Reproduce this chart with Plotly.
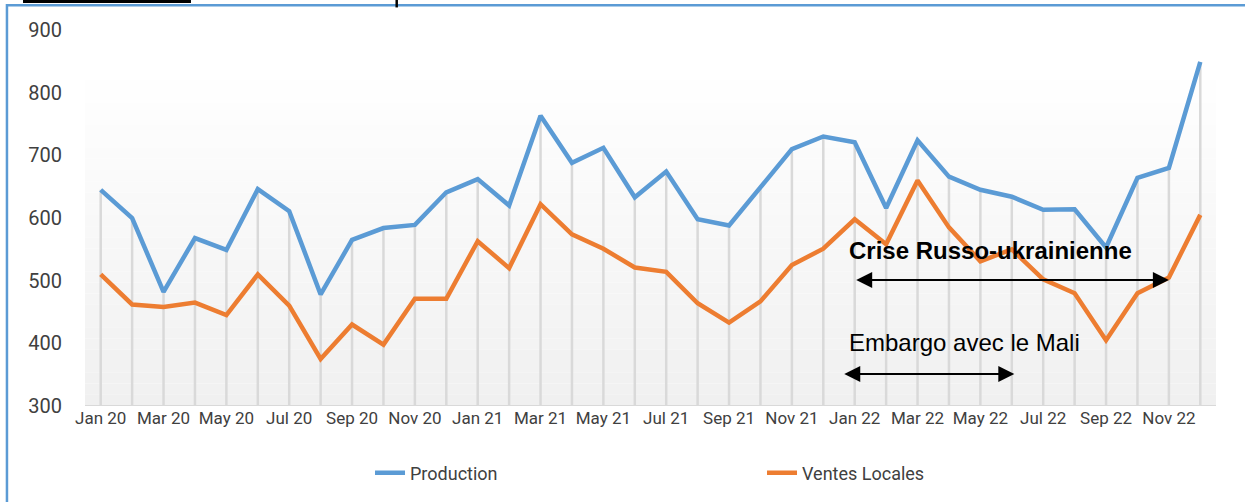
import plotly.graph_objects as go

months = [f"{m} {y}" for y in ("20", "21", "22")
          for m in ("Jan", "Feb", "Mar", "Apr", "May", "Jun",
                    "Jul", "Aug", "Sep", "Oct", "Nov", "Dec")]

production = [645, 600, 482, 568, 549, 646, 611, 478, 565, 584, 589, 641,
              662, 620, 763, 688, 712, 633, 674, 598, 588, 650, 710, 730,
              721, 616, 724, 666, 645, 634, 613, 614, 553, 664, 680, 849]

ventes_locales = [510, 462, 458, 465, 445, 510, 460, 375, 430, 398, 471, 471,
                  563, 520, 622, 574, 551, 521, 514, 464, 433, 467, 525, 551,
                  598, 558, 660, 585, 531, 550, 502, 480, 405, 480, 505, 605]

y_ticks = [300, 400, 500, 600, 700, 800, 900]

NARROW = "Roboto, Liberation Sans, sans-serif"
BLUE = "#5b9bd5"
ORANGE = "#ed7d31"

x = list(range(len(months)))
fig = go.Figure()

# drop lines from production down to the axis
drop_x, drop_y = [], []
for i, v in zip(x, production):
    drop_x += [i, i, None]
    drop_y += [y_ticks[0], v, None]
fig.add_trace(go.Scatter(x=drop_x, y=drop_y, mode="lines", showlegend=False,
                         hoverinfo="skip", line=dict(color="#d9d9d9", width=2.5)))

fig.add_trace(go.Scatter(x=x, y=production, mode="lines", name="Production",
                         line=dict(color=BLUE, width=4.5)))
fig.add_trace(go.Scatter(x=x, y=ventes_locales, mode="lines", name="Ventes Locales",
                         line=dict(color=ORANGE, width=4.5)))

# gradient plot background
shapes = []
n = 30
top = 838
for k in range(n):
    y0 = 300 + (top - 300) * k / n
    y1 = 300 + (top - 300) * (k + 1) / n
    g = round(240 + 15 * (k / (n - 1)))
    shapes.append(dict(type="rect", xref="paper", yref="y", x0=0, x1=1, y0=y0, y1=y1,
                       fillcolor=f"rgb({g},{g},{g})", line_width=0, layer="below"))
# axis baseline
shapes.append(dict(type="line", xref="paper", yref="y", x0=0, x1=1, y0=300, y1=300,
                   line=dict(color="#d9d9d9", width=2), layer="below"))
# outer blue frame
shapes.append(dict(type="rect", xref="paper", yref="paper", x0=-0.069, x1=1.05,
                   y0=-0.35, y1=1.066, line=dict(color=BLUE, width=2.5)))
# remnants of a cropped title
shapes.append(dict(type="rect", xref="paper", yref="paper", x0=-0.0548, x1=0.0937,
                   y0=1.072, y1=1.09, fillcolor="black", line_width=0))
shapes.append(dict(type="rect", xref="paper", yref="paper", x0=0.2745, x1=0.2767,
                   y0=1.060, y1=1.09, fillcolor="black", line_width=0))

annotations = [
    dict(x=23.75, y=548, xref="x", yref="y", text="<b>Crise Russo-ukrainienne</b>",
         showarrow=False, xanchor="left", yanchor="middle",
         font=dict(family="Liberation Sans, Arial, sans-serif", size=24, color="black")),
    dict(x=23.75, y=401, xref="x", yref="y", text="Embargo avec le Mali",
         showarrow=False, xanchor="left", yanchor="middle",
         font=dict(family="Liberation Sans, Arial, sans-serif", size=24, color="black")),
    dict(x=34.0, y=501, ax=24.0, ay=501, xref="x", yref="y", axref="x", ayref="y",
         text="", showarrow=True, arrowhead=2, startarrowhead=2, arrowside="end+start",
         arrowsize=1.6, startarrowsize=1.6, arrowwidth=2, arrowcolor="black"),
    dict(x=29.08, y=351, ax=23.62, ay=351, xref="x", yref="y", axref="x", ayref="y",
         text="", showarrow=True, arrowhead=2, startarrowhead=2, arrowside="end+start",
         arrowsize=1.6, startarrowsize=1.6, arrowwidth=2, arrowcolor="black"),
]

fig.update_layout(
    width=1245, height=502,
    margin=dict(l=85, r=29, t=30, b=95),
    paper_bgcolor="white", plot_bgcolor="rgba(0,0,0,0)",
    shapes=shapes, annotations=annotations,
    legend=dict(orientation="h", x=0.252, xanchor="left", y=-0.175, yanchor="middle",
                entrywidth=347, entrywidthmode="pixels",
                font=dict(family=NARROW, size=18, color="#404040")),
    xaxis=dict(range=[-0.5, 35.5], tickvals=x[::2], ticktext=months[::2],
               showgrid=False, zeroline=False, showline=False, ticks="",
               automargin=False,
               tickfont=dict(family=NARROW, size=17, color="#404040")),
    yaxis=dict(range=[300, 900], tickvals=y_ticks, showgrid=False, zeroline=False,
               showline=False, ticks="", ticklabelstandoff=22, automargin=False,
               tickfont=dict(family=NARROW, size=20, color="#404040")),
)

# drop the default page margin so the figure sits at the window's corner
fig.write_html("out.html", config={"displayModeBar": False},
               post_script="document.body.style.margin='0';")
